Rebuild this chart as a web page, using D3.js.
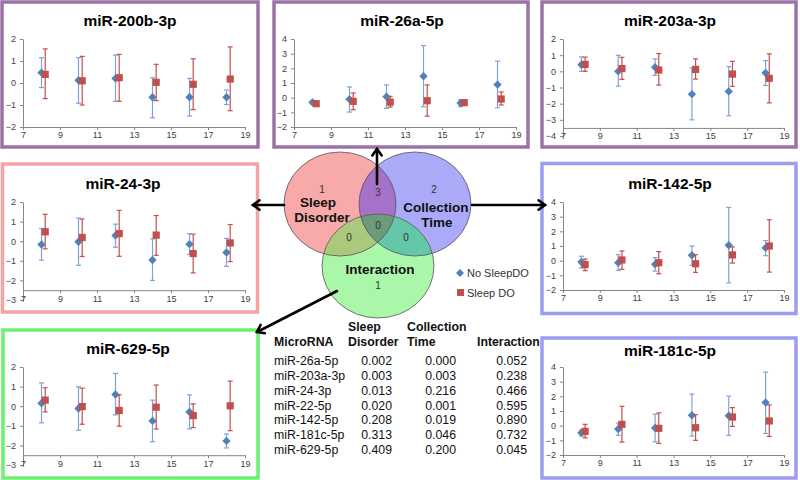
<!DOCTYPE html>
<html>
<head>
<meta charset="utf-8">
<script src="https://cdn.jsdelivr.net/npm/d3@7/dist/d3.min.js"></script>
<style>
  html, body { margin: 0; padding: 0; background: #fff; }
  svg { display: block; font-family: "Liberation Sans", Arial, sans-serif; }
</style>
</head>
<body>
<svg id="chart" width="800" height="480"></svg>
<script>
// ---------- DATA ----------
const timePoints = [8, 10, 12, 14, 16, 18];
const xTickLabels = [7, 9, 11, 13, 15, 17, 19];
const seriesNames = ["No SleepDO", "Sleep DO"];

// miR-200b-3p
const m200b_noMean = [0.47, 0.12, 0.21, -0.65, -0.65, -0.65];
const m200b_noHi   = [1.15, 1.15, 1.27, 0.24, 0.21, -0.32];
const m200b_noLo   = [-0.21, -0.92, -0.83, -1.58, -1.50, -0.98];
const m200b_doMean = [0.39, 0.10, 0.24, 0.03, -0.06, 0.18];
const m200b_doHi   = [1.55, 1.21, 1.30, 0.85, 1.10, 1.64];
const m200b_doLo   = [-0.71, -1.00, -0.83, -0.80, -1.21, -1.26];
const m200b_yTicks = [-2, -1, 0, 1, 2];

// miR-26a-5p
const m26a_noMean = [-0.32, -0.11, 0.07, 1.46, -0.37, 0.89];
const m26a_noHi   = [-0.20, 0.73, 0.87, 3.55, -0.14, 2.49];
const m26a_noLo   = [-0.45, -0.98, -0.73, -0.62, -0.62, -0.69];
const m26a_doMean = [-0.41, -0.25, -0.30, -0.21, -0.34, -0.09];
const m26a_doHi   = [-0.26, 0.32, 0.09, 0.87, -0.21, 0.39];
const m26a_doLo   = [-0.56, -0.82, -0.64, -1.26, -0.46, -0.50];
const m26a_yTicks = [-2, -1, 0, 1, 2, 3, 4];

// miR-203a-3p
const m203a_noMean = [0.41, 0.00, 0.25, -1.41, -1.24, -0.10];
const m203a_noHi   = [0.89, 0.99, 0.77, 0.21, 0.29, 0.66];
const m203a_noLo   = [0.00, -0.91, -0.25, -3.00, -2.75, -0.87];
const m203a_doMean = [0.43, 0.17, 0.08, 0.12, -0.17, -0.43];
const m203a_doHi   = [0.88, 0.87, 1.10, 0.77, 0.62, 1.08];
const m203a_doLo   = [0.00, -0.50, -0.85, -0.48, -0.93, -1.95];
const m203a_yTicks = [-4, -3, -2, -1, 0, 1, 2];

// miR-24-3p
const m24_noMean = [-0.17, -0.03, 0.29, -0.96, -0.15, -0.58];
const m24_noHi   = [0.65, 1.18, 0.87, 0.12, 0.38, 0.14];
const m24_noLo   = [-0.97, -1.23, -0.31, -2.00, -0.68, -1.28];
const m24_doMean = [0.48, 0.19, 0.39, 0.31, -0.63, -0.09];
const m24_doHi   = [1.37, 1.13, 1.57, 1.31, 0.36, 0.85];
const m24_doLo   = [-0.39, -0.78, -0.77, -0.72, -1.62, -1.04];
const m24_yTicks = [-3, -2, -1, 0, 1, 2];

// miR-142-5p
const m142_noMean = [-0.09, -0.14, -0.25, 0.37, 1.05, 0.87];
const m142_noHi   = [0.30, 0.41, 0.21, 1.00, 3.63, 1.37];
const m142_noLo   = [-0.50, -0.66, -0.71, -0.32, -1.51, 0.34];
const m142_doMean = [-0.27, 0.05, -0.14, -0.21, 0.39, 1.00];
const m142_doHi   = [0.11, 0.66, 0.62, 0.41, 0.94, 2.79];
const m142_doLo   = [-0.68, -0.59, -0.89, -0.80, -0.16, -0.78];
const m142_yTicks = [-2, -1, 0, 1, 2, 3, 4];

// miR-629-5p
const m629_noMean = [0.15, -0.12, 0.60, -0.75, -0.29, -1.77];
const m629_noHi   = [1.19, 0.99, 1.67, 0.31, 0.58, -1.42];
const m629_noLo   = [-0.85, -1.23, -0.44, -1.81, -1.16, -2.13];
const m629_doMean = [0.31, -0.02, -0.22, -0.05, -0.48, 0.02];
const m629_doHi   = [0.94, 0.92, 0.58, 1.08, 0.12, 1.28];
const m629_doLo   = [-0.29, -0.92, -1.02, -1.16, -1.09, -1.25];
const m629_yTicks = [-3, -2, -1, 0, 1, 2];

// miR-181c-5p
const m181c_noMean = [-0.48, -0.23, -0.16, 0.71, 0.68, 1.58];
const m181c_noHi   = [-0.30, 0.18, 0.78, 2.15, 2.01, 3.65];
const m181c_noLo   = [-0.71, -0.66, -1.10, -0.71, -0.66, -0.53];
const m181c_doMean = [-0.39, 0.09, -0.18, -0.14, 0.59, 0.32];
const m181c_doHi   = [0.09, 1.32, 0.87, 0.75, 1.23, 1.42];
const m181c_doLo   = [-0.84, -1.12, -1.21, -1.00, -0.05, -0.73];
const m181c_yTicks = [-2, -1, 0, 1, 2, 3, 4];

// Venn counts
const vennSets = ["Sleep Disorder", "Collection Time", "Interaction"];
const vennCounts = { sd: 1, ct: 2, ia: 1, sdct: 3, sdia: 0, ctia: 0, all: 0 };

// p-value table
const tableHeaders = ["MicroRNA", "Sleep Disorder", "Collection Time", "Interaction"];
const tableMiRNA = ["miR-26a-5p", "miR-203a-3p", "miR-24-3p", "miR-22-5p", "miR-142-5p", "miR-181c-5p", "miR-629-5p"];
const tablePSleep = ["0.002", "0.003", "0.013", "0.020", "0.208", "0.313", "0.409"];
const tablePTime  = ["0.000", "0.003", "0.216", "0.001", "0.019", "0.046", "0.200"];
const tablePInter = ["0.052", "0.238", "0.466", "0.595", "0.890", "0.732", "0.045"];

// ---------- LAYOUT ----------
const panels = [
  { title: "miR-200b-3p", border: "#9b72a8", box: [2, 2, 256, 145], plot: [23, 245, 39, 127], yDom: [-2, 2], cross: -2, titleX: 130, titleY: 25,
    no: [m200b_noMean, m200b_noLo, m200b_noHi], dd: [m200b_doMean, m200b_doLo, m200b_doHi], yTicks: m200b_yTicks },
  { title: "miR-26a-5p", border: "#9b72a8", box: [274, 2, 254, 145], plot: [294, 516, 39, 127], yDom: [-2, 4], cross: -2, titleX: 402, titleY: 25,
    no: [m26a_noMean, m26a_noLo, m26a_noHi], dd: [m26a_doMean, m26a_doLo, m26a_doHi], yTicks: m26a_yTicks },
  { title: "miR-203a-3p", border: "#9b72a8", box: [542, 2, 254, 145], plot: [563, 784, 39, 136], yDom: [-4, 2], cross: -3.5, titleX: 670, titleY: 25,
    no: [m203a_noMean, m203a_noLo, m203a_noHi], dd: [m203a_doMean, m203a_doLo, m203a_doHi], yTicks: m203a_yTicks },
  { title: "miR-24-3p", border: "#f4a3a3", box: [2.5, 164, 255, 148], plot: [23, 245, 202, 300], yDom: [-3, 2], cross: -2.5, titleX: 123, titleY: 188,
    no: [m24_noMean, m24_noLo, m24_noHi], dd: [m24_doMean, m24_doLo, m24_doHi], yTicks: m24_yTicks },
  { title: "miR-142-5p", border: "#9d9df0", box: [542, 163.5, 254, 150], plot: [563, 784, 202, 290], yDom: [-2, 4], cross: -2, titleX: 670, titleY: 188,
    no: [m142_noMean, m142_noLo, m142_noHi], dd: [m142_doMean, m142_doLo, m142_doHi], yTicks: m142_yTicks },
  { title: "miR-629-5p", border: "#6ef06e", box: [3, 330, 255, 148], plot: [23, 245, 367, 465], yDom: [-3, 2], cross: -2.5, titleX: 128, titleY: 353,
    no: [m629_noMean, m629_noLo, m629_noHi], dd: [m629_doMean, m629_doLo, m629_doHi], yTicks: m629_yTicks },
  { title: "miR-181c-5p", border: "#9d9df0", box: [542, 338, 254, 140], plot: [563, 784, 367, 455], yDom: [-2, 4], cross: -2, titleX: 670, titleY: 355,
    no: [m181c_noMean, m181c_noLo, m181c_noHi], dd: [m181c_doMean, m181c_doLo, m181c_doHi], yTicks: m181c_yTicks }
];

const blueMarker = "#4f81bd", blueErr = "#7fa3d3";
const redMarker = "#c0504d", redErr = "#c0504d";
const axisColor = "#868686", tickText = "#404040";

const svg = d3.select("#chart");

// ---------- PANELS ----------
panels.forEach(p => {
  const g = svg.append("g");
  g.append("rect").attr("x", p.box[0]).attr("y", p.box[1]).attr("width", p.box[2]).attr("height", p.box[3])
    .attr("fill", "#fff").attr("stroke", p.border).attr("stroke-width", 3.5);

  g.append("text").attr("x", p.titleX).attr("y", p.titleY + 1).attr("text-anchor", "middle")
    .attr("font-size", 15.5).attr("font-weight", "bold").attr("fill", "#000").text(p.title);

  const x = d3.scaleLinear().domain([7, 19]).range([p.plot[0], p.plot[1]]);
  const y = d3.scaleLinear().domain(p.yDom).range([p.plot[3], p.plot[2]]);

  const yAxis = g.append("g").attr("transform", `translate(${p.plot[0]},0)`)
    .call(d3.axisLeft(y).tickValues(p.yTicks).tickSize(3).tickSizeOuter(0).tickPadding(4).tickFormat(d3.format("d")));
  const xAxis = g.append("g").attr("transform", `translate(0,${y(p.cross)})`)
    .call(d3.axisBottom(x).tickValues(xTickLabels).tickSize(3).tickSizeOuter(0).tickPadding(2).tickFormat(d3.format("d")));
  [yAxis, xAxis].forEach(a => {
    a.select(".domain").attr("stroke", axisColor).attr("stroke-width", 1);
    a.selectAll(".tick line").attr("stroke", axisColor);
    a.selectAll(".tick text").attr("fill", tickText).attr("font-size", 9).attr("font-family", "Liberation Sans, Arial, sans-serif");
  });

  const drawSeries = (s, offset, errColor, isSquare, markColor) => {
    const sg = g.append("g");
    timePoints.forEach((t, i) => {
      const cx = x(t + offset);
      const yHi = y(s[2][i]), yLo = y(s[1][i]);
      sg.append("line").attr("x1", cx).attr("x2", cx).attr("y1", yHi).attr("y2", yLo)
        .attr("stroke", errColor).attr("stroke-width", 1.2);
      [yHi, yLo].forEach(yy => sg.append("line").attr("x1", cx - 2.5).attr("x2", cx + 2.5).attr("y1", yy).attr("y2", yy)
        .attr("stroke", errColor).attr("stroke-width", 1.2));
    });
    timePoints.forEach((t, i) => {
      const cx = x(t + offset), cy = y(s[0][i]);
      if (isSquare) {
        sg.append("rect").attr("x", cx - 3.6).attr("y", cy - 3.6).attr("width", 7.2).attr("height", 7.2).attr("fill", markColor);
      } else {
        sg.append("path").attr("d", `M${cx},${cy - 4.2}L${cx + 4.2},${cy}L${cx},${cy + 4.2}L${cx - 4.2},${cy}Z`).attr("fill", markColor);
      }
    });
  };
  drawSeries(p.no, 0, blueErr, false, blueMarker);
  drawSeries(p.dd, 0.2, redErr, true, redMarker);
});

// ---------- VENN ----------
const defs = svg.append("defs");
const circles = {
  sd: { cx: 340, cy: 204, rx: 56, ry: 52, fill: "#f8a9a9" },
  ct: { cx: 415, cy: 204, rx: 56, ry: 52, fill: "#aaaaf8" },
  ia: { cx: 378, cy: 266, rx: 56, ry: 52, fill: "#aaf7aa" }
};
Object.entries(circles).forEach(([k, c]) => {
  defs.append("clipPath").attr("id", "clip-" + k).append("ellipse")
    .attr("cx", c.cx).attr("cy", c.cy).attr("rx", c.rx).attr("ry", c.ry);
});
const venn = svg.append("g");
const ell = (sel, c, fill) => sel.append("ellipse").attr("cx", c.cx).attr("cy", c.cy).attr("rx", c.rx).attr("ry", c.ry).attr("fill", fill);
ell(venn, circles.sd, circles.sd.fill);
ell(venn, circles.ct, circles.ct.fill);
ell(venn, circles.ia, circles.ia.fill);
ell(venn.append("g").attr("clip-path", "url(#clip-sd)"), circles.ct, "#a672c9");
ell(venn.append("g").attr("clip-path", "url(#clip-sd)"), circles.ia, "#abc97c");
ell(venn.append("g").attr("clip-path", "url(#clip-ct)"), circles.ia, "#63c8a9");
ell(venn.append("g").attr("clip-path", "url(#clip-sd)").append("g").attr("clip-path", "url(#clip-ct)"), circles.ia, "#6c9a7b");
Object.values(circles).forEach(c => {
  venn.append("ellipse").attr("cx", c.cx).attr("cy", c.cy).attr("rx", c.rx).attr("ry", c.ry)
    .attr("fill", "none").attr("stroke", "#555").attr("stroke-width", 0.8);
});

const vNum = (xx, yy, v) => venn.append("text").attr("x", xx).attr("y", yy).attr("text-anchor", "middle")
  .attr("font-size", 10).attr("fill", "#333").text(v);
const vLab = (xx, yy, t) => venn.append("text").attr("x", xx).attr("y", yy).attr("text-anchor", "middle")
  .attr("font-size", 13.5).attr("font-weight", "bold").attr("fill", "#111").text(t);
vNum(322, 193, vennCounts.sd);
vLab(318, 207, vennSets[0].split(" ")[0]);
vLab(322, 222, vennSets[0].split(" ")[1]);
vNum(378, 196, vennCounts.sdct);
vNum(434, 193, vennCounts.ct);
vLab(436, 212, vennSets[1].split(" ")[0]);
vLab(437, 227, vennSets[1].split(" ")[1]);
vNum(378, 229, vennCounts.all);
vNum(349, 241, vennCounts.sdia);
vNum(406, 241, vennCounts.ctia);
vLab(380, 274, vennSets[2]);
vNum(378, 289, vennCounts.ia);

// legend
const lg = svg.append("g");
lg.append("path").attr("d", "M460,269L464,273L460,277L456,273Z").attr("fill", blueMarker);
lg.append("text").attr("x", 467).attr("y", 277).attr("font-size", 11).attr("fill", "#333").text(seriesNames[0]);
lg.append("rect").attr("x", 457).attr("y", 289).attr("width", 7).attr("height", 7).attr("fill", redMarker);
lg.append("text").attr("x", 467).attr("y", 297).attr("font-size", 11).attr("fill", "#333").text(seriesNames[1]);

// arrows
const arrows = svg.append("g").attr("stroke", "#000").attr("stroke-width", 2.6).attr("fill", "none").attr("stroke-linecap", "round");
const arrow = (x1, y1, x2, y2) => {
  arrows.append("line").attr("x1", x1).attr("y1", y1).attr("x2", x2).attr("y2", y2);
  const ang = Math.atan2(y2 - y1, x2 - x1), L = 8, a = Math.PI / 5;
  const p1 = [x2 - L * Math.cos(ang - a), y2 - L * Math.sin(ang - a)];
  const p2 = [x2 - L * Math.cos(ang + a), y2 - L * Math.sin(ang + a)];
  arrows.append("path").attr("d", `M${p1[0]},${p1[1]}L${x2},${y2}L${p2[0]},${p2[1]}`).attr("stroke-linejoin", "miter");
};
arrow(377, 184, 377, 149);
arrow(284, 205, 253, 205);
arrow(472, 205, 545, 205);
arrow(337, 291, 257, 332);

// ---------- TABLE ----------
const tb = svg.append("g").attr("font-size", 12.3).attr("fill", "#111");
tb.append("text").attr("x", 348).attr("y", 331).attr("font-weight", "bold").text(tableHeaders[1].split(" ")[0]);
tb.append("text").attr("x", 407).attr("y", 331).attr("font-weight", "bold").text(tableHeaders[2].split(" ")[0]);
tb.append("text").attr("x", 274).attr("y", 346).attr("font-weight", "bold").text(tableHeaders[0]);
tb.append("text").attr("x", 348).attr("y", 346).attr("font-weight", "bold").text(tableHeaders[1].split(" ")[1]);
tb.append("text").attr("x", 407).attr("y", 346).attr("font-weight", "bold").text(tableHeaders[2].split(" ")[1]);
tb.append("text").attr("x", 477).attr("y", 346).attr("font-weight", "bold").text(tableHeaders[3]);
const rowY = d3.scaleLinear().domain([0, tableMiRNA.length - 1]).range([365, 454]);
tableMiRNA.forEach((m, i) => {
  tb.append("text").attr("x", 274).attr("y", rowY(i)).text(m);
  tb.append("text").attr("x", 392).attr("y", rowY(i)).attr("text-anchor", "end").text(tablePSleep[i]);
  tb.append("text").attr("x", 456).attr("y", rowY(i)).attr("text-anchor", "end").text(tablePTime[i]);
  tb.append("text").attr("x", 527).attr("y", rowY(i)).attr("text-anchor", "end").text(tablePInter[i]);
});
</script>
</body>
</html>
